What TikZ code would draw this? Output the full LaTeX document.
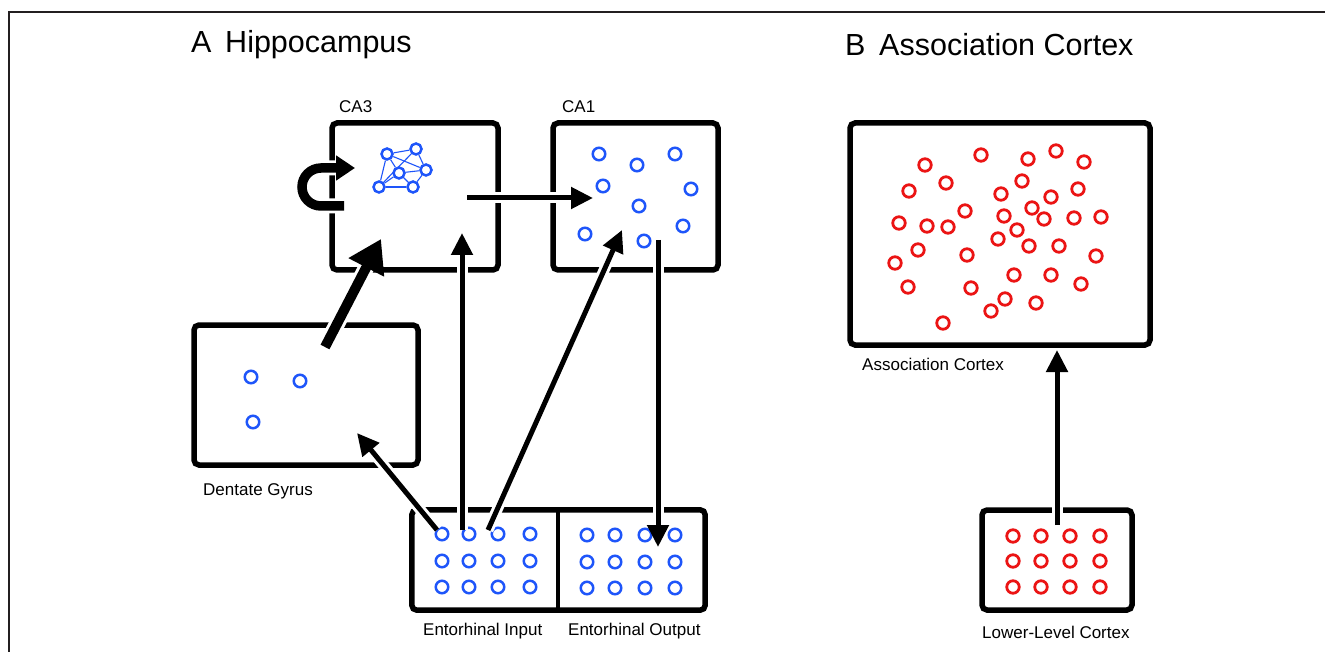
\documentclass[tikz,border=0pt]{standalone}
\usepackage{fontspec}
\setmainfont{Liberation Sans}
\usetikzlibrary{arrows.meta}
\definecolor{nblue}{RGB}{30,85,250}
\definecolor{nred}{RGB}{235,20,20}
\definecolor{framec}{RGB}{35,31,32}
\begin{document}
\begin{tikzpicture}[x=1pt,y=-1pt,
 box/.style={draw=black,line width=5.5pt,rounded corners=5pt,inner sep=0pt},
 area/.style={inner sep=0pt},
 bc/.style={circle,draw=nblue,line width=2.5pt,minimum size=12.5pt,inner sep=0pt},
 nc/.style={circle,draw=nblue,line width=2.5pt,minimum size=11pt,inner sep=0pt},
 rc/.style={circle,draw=nred,line width=2.8pt,minimum size=12.5pt,inner sep=0pt},
 lab/.style={font=\fontsize{17}{20}\selectfont,anchor=west,inner sep=0pt},
 ttl/.style={font=\fontsize{30.5}{36}\selectfont,anchor=west,inner sep=0pt},
 arr/.style={line width=5pt,-{Triangle[length=22pt,width=21pt]},
   preaction={draw=white,line width=11pt,arrows=-,shorten >=20pt}},
 bigarr/.style={line width=10pt,-{Triangle[length=32pt,width=38pt]},
   preaction={draw=white,line width=16pt,arrows=-,shorten >=28pt}},
 looparr/.style={line width=9.5pt,-{Triangle[length=19pt,width=24pt]},
   preaction={draw=white,line width=15pt,arrows=-,shorten >=17pt}},
]
\useasboundingbox (0,0) rectangle (1325,652);
\fill[white] (0,0) rectangle (1325,652);
% frame
\draw[framec,line width=2pt] (9,652) -- (9,12) -- (1325,12);

% titles
\node[ttl] (tA) at (191,45) {A\hspace{0.45em}Hippocampus};
\node[ttl] (tB) at (845,45) {B\hspace{0.45em}Association Cortex};

% boxes
\node[box,minimum width=166pt,minimum height=147pt] (ca3) at (415,196.5) {};
\node[box,minimum width=165pt,minimum height=147pt] (ca1) at (635.5,196.5) {};
\node[box,minimum width=224pt,minimum height=140pt] (dg) at (306,395) {};
\node[area,minimum width=146pt,minimum height=100pt] (ecin) at (485,560) {};
\node[area,minimum width=147pt,minimum height=100pt] (ecout) at (631.5,560) {};
\draw[line width=5.5pt,rounded corners=5pt] (ecin.north west) rectangle (ecout.south east);
\draw[line width=4pt] (ecin.north east) -- (ecin.south east);
\node[box,minimum width=300pt,minimum height=222pt] (assoc) at (1000,234) {};
\node[box,minimum width=150pt,minimum height=100pt] (lower) at (1057,560) {};

% labels
\node[lab] (lca3) at (339,107) {CA3};
\node[lab] (lca1) at (562,107) {CA1};
\node[lab] (ldg) at (203,491) {Dentate Gyrus};
\node[lab] (lecin) at (423,631) {Entorhinal Input};
\node[lab] (lecout) at (568,631) {Entorhinal Output};
\node[lab] (lassoc) at (862,364) {Association Cortex};
\node[lab] (llower) at (982,632) {Lower-Level Cortex};

% CA3 network
\node[nc] (n1) at (387,154) {};
\node[nc] (n2) at (416,149) {};
\node[nc] (n3) at (426,170) {};
\node[nc] (n4) at (399,173) {};
\node[nc] (n5) at (379,187) {};
\node[nc] (n6) at (413,187) {};
\foreach \a/\b in {n1/n2,n2/n3,n3/n6,n6/n5,n5/n1,n5/n2,n1/n3,n4/n6,n4/n3,n5/n4,n1/n4}
  \draw[nblue,line width=1.1pt] (\a) -- (\b);

% CA1 cells
\foreach \p [count=\i] in {(599,154),(637,165),(675,154),(603,186),(691,189),(639,206),(585,234),(644,241),(683,226)}
  \node[bc] (ca1c\i) at \p {};

% DG cells
\foreach \p [count=\i] in {(251,377),(300,381),(253,422)}
  \node[bc] (dgc\i) at \p {};

% Entorhinal cells
\foreach \c/\x in {1/442,2/469,3/498,4/530}
  \foreach \r/\y in {1/534,2/561,3/587}
    \node[bc] (ei\c\r) at (\x,\y) {};
\foreach \c/\x in {1/587,2/615,3/645,4/675}
  \foreach \r/\y in {1/535,2/562,3/588}
    \node[bc] (eo\c\r) at (\x,\y) {};

% Lower-level cells
\foreach \c/\x in {1/1013,2/1041,3/1070,4/1100}
  \foreach \r/\y in {1/536,2/561,3/587}
    \node[rc] (lc\c\r) at (\x,\y) {};

% Association cells
\foreach \p [count=\i] in {(925,165),(981,155),(1028,159),(1056,151),(1084,162),(909,191),(946,183),(1022,181),(1001,194),(1078,189),(1051,197),(965,211),(1032,208),(899,223),(927,226),(948,227),(1004,216),(1044,219),(1074,218),(1101,217),(1017,230),(998,239),(918,250),(967,255),(1029,246),(1059,246),(1096,256),(895,263),(1014,275),(1051,275),(908,287),(971,288),(1081,284),(1005,299),(1036,303),(991,311),(943,323)}
  \node[rc] (ac\i) at \p {};

% arrow end points
\coordinate (ca3out) at (467,198);
\coordinate (ca1in) at (593,198);
\coordinate (dgout) at (325,347);
\coordinate (ca3in) at (381,239);
\coordinate (ecdg) at (437,530);
\coordinate (dgin) at (357,433);
\coordinate (ecca3) at (462,530);
\coordinate (ca3in2) at (462,233);
\coordinate (ecca1) at (488,530);
\coordinate (ca1in2) at (622,230);
\coordinate (ca1out) at (658,240);
\coordinate (ecoutin) at (658,547);
\coordinate (lowout) at (1057,525);
\coordinate (associn) at (1057,350);
\coordinate (loopstart) at (344,206);

% arrows
\draw[looparr] (loopstart) -- (321,206) arc[start angle=270,end angle=90,radius=19pt] -- (355,168);
\draw[arr] (ca3out) -- (ca1in);
\draw[bigarr] (dgout) -- (ca3in);
\draw[arr] (ecdg) -- (dgin);
\draw[arr] (ecca3) -- (ca3in2);
\draw[arr] (ecca1) -- (ca1in2);
\draw[arr] (ca1out) -- (ecoutin);
\draw[arr] (lowout) -- (associn);
\end{tikzpicture}
\end{document}
